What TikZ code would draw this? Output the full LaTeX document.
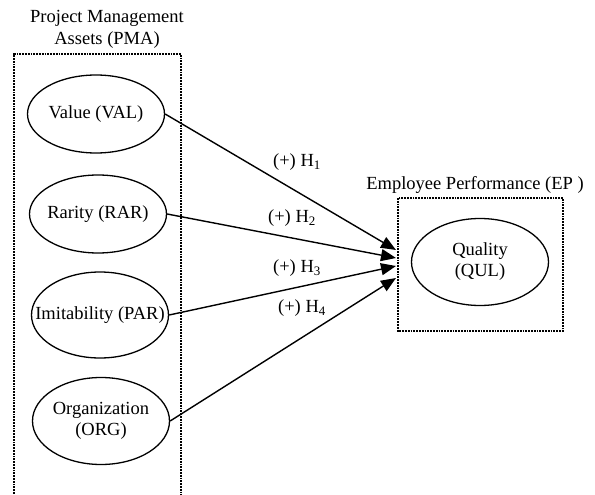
\documentclass[tikz,border=0pt]{standalone}
\usepackage{fontspec}
\setmainfont{Liberation Serif}
\usetikzlibrary{shapes.geometric,arrows.meta}

\newcommand{\inell}[1]{\makebox[0pt]{\begin{tabular}{@{}c@{}}#1\end{tabular}}}

\begin{document}
\begin{tikzpicture}[x=1pt,y=-1pt,
  construct/.style={draw,ellipse,line width=1.3pt,minimum width=137pt,minimum height=80pt,inner sep=0pt,font=\fontsize{18.5}{21}\selectfont},
  groupbox/.style={densely dotted,line width=1.8pt},
  hyp/.style={-{Triangle[length=15pt,width=12pt]},line width=1.4pt},
  lbl/.style={align=center,font=\fontsize{18.5}{22}\selectfont}]
			\useasboundingbox (0,0) rectangle (595,495);
			% Project Management Assets
			\node[lbl] (pmatitle) at (107,29) {Project Management\\Assets (PMA)};
			\draw[groupbox] (14,505) -- (14,54) -- (181,54) -- (181,505);
			\node[construct,minimum height=78pt] (val) at (96,114) {\inell{Value (VAL)}};
			\node[construct,minimum height=78pt] (rar) at (98,214) {\inell{Rarity (RAR)}};
			\node[construct,minimum height=86pt] (imi) at (100,315) {\inell{Imitability (PAR)}};
			\node[construct,minimum height=87pt] (org) at (101,421) {\inell{Organization\\(ORG)}};
			% Employee Performance
			\node[lbl] (eptitle) at (475,185) {Employee Performance (EP )};
			\draw[groupbox] (398,198) rectangle (563,331);
			\node[construct,minimum height=87pt] (qul) at (480,262) {\inell{Quality\\(QUL)}};
			% hypotheses
			\coordinate (t1) at (396,250);
			\coordinate (t2) at (396,258);
			\coordinate (t3) at (396,266);
			\coordinate (t4) at (396,278);
			\draw[hyp] (val.east) -- (t1);
			\draw[hyp] (rar.east) -- (t2);
			\draw[hyp] (imi.east) -- (t3);
			\draw[hyp] (org.east) -- (t4);
			\node[lbl] (h1) at (297,162) {(+) H\textsubscript{1}};
			\node[lbl] (h2) at (292,218) {(+) H\textsubscript{2}};
			\node[lbl] (h3) at (297,268) {(+) H\textsubscript{3}};
			\node[lbl] (h4) at (302,308) {(+) H\textsubscript{4}};
\end{tikzpicture}
\end{document}
